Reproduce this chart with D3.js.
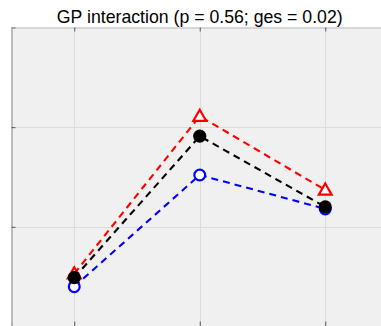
<!DOCTYPE html>
<html>
<head>
<meta charset="utf-8">
<script src="https://cdn.jsdelivr.net/npm/d3@7"></script>
<style>
  html, body { margin: 0; padding: 0; background: #ffffff; }
  svg { display: block; }
</style>
</head>
<body>
<script>
// Group means at each time point for the GP interaction plot
const timePoints = [1, 2, 3];
const groupA = [0.53, 2.11, 1.37];   // red, open triangles
const groupB = [0.40, 1.52, 1.18];   // blue, open circles
const overall = [0.49, 1.91, 1.20];  // black, filled circles
const yTicks = [0, 1, 2, 3];
const titleText = "GP interaction (p = 0.56; ges = 0.02)";

const W = 381, H = 326;
const svg = d3.select("body").append("svg").attr("width", W).attr("height", H);

// Axes box (extends past the right and bottom edges of the window)
const box = { left: 11.5, top: 27.5, right: 388, bottom: 326.5 };

const x = d3.scaleLinear().domain([0.5, 3.5]).range([box.left, box.right]);
const y = d3.scaleLinear().domain([0, 3]).range([box.bottom, box.top]);

// Plot background
svg.append("rect")
  .attr("x", box.left).attr("y", box.top)
  .attr("width", box.right - box.left).attr("height", box.bottom - box.top)
  .attr("fill", "#f0f0f0");

// Grid lines
const grid = svg.append("g").attr("stroke", "#dcdcdc").attr("stroke-width", 1);
grid.selectAll("line.gx").data(timePoints).join("line")
  .attr("x1", d => Math.round(x(d)) + 0.5).attr("x2", d => Math.round(x(d)) + 0.5)
  .attr("y1", box.top).attr("y2", box.bottom);
grid.selectAll("line.gy").data(yTicks.slice(1, -1)).join("line")
  .attr("y1", d => Math.round(y(d)) + 0.5).attr("y2", d => Math.round(y(d)) + 0.5)
  .attr("x1", box.left).attr("x2", box.right);

// Axes with inward ticks, no labels
const axisColor = "#b0b0b0";
const leftAxis = svg.append("g").attr("transform", `translate(${box.left},0)`)
  .call(d3.axisLeft(y).tickValues(yTicks).tickSize(-4).tickFormat(""));
const topAxis = svg.append("g").attr("transform", `translate(0,${box.top})`)
  .call(d3.axisTop(x).tickValues(timePoints).tickSize(-4).tickFormat(""));
const bottomAxis = svg.append("g").attr("transform", `translate(0,${box.bottom})`)
  .call(d3.axisBottom(x).tickValues(timePoints).tickSize(-5).tickFormat(""));
[leftAxis, topAxis, bottomAxis].forEach(g => {
  g.select(".domain").attr("stroke", axisColor).attr("stroke-width", 1.6);
  g.selectAll(".tick line").attr("stroke", "#555").attr("stroke-width", 1);
});
topAxis.select(".domain").attr("stroke", "#bbbbbb").attr("stroke-width", 1.2);

// Dashed series lines
const line = d3.line().x((d, i) => x(timePoints[i])).y(d => y(d));
const series = [
  { values: groupA, color: "#ff0000" },
  { values: groupB, color: "#0000ff" },
  { values: overall, color: "#000000" }
];
svg.append("g").selectAll("path").data(series).join("path")
  .attr("d", s => line(s.values))
  .attr("fill", "none")
  .attr("stroke", s => s.color)
  .attr("stroke-width", 2.1)
  .attr("stroke-dasharray", "7,5");

// Markers
const tri = d3.symbol().type(d3.symbolTriangle).size(72);
svg.append("g").selectAll("path").data(groupA).join("path")
  .attr("d", tri)
  .attr("transform", (d, i) => `translate(${x(timePoints[i])},${y(d) + 1})`)
  .attr("fill", "#ffffff").attr("stroke", "#ff0000").attr("stroke-width", 2.2);

svg.append("g").selectAll("circle").data(groupB).join("circle")
  .attr("cx", (d, i) => x(timePoints[i])).attr("cy", d => y(d))
  .attr("r", 5.4).attr("fill", "#ffffff").attr("stroke", "#0000ff").attr("stroke-width", 2.2);

svg.append("g").selectAll("circle").data(overall).join("circle")
  .attr("cx", (d, i) => x(timePoints[i])).attr("cy", d => y(d))
  .attr("r", 6.6).attr("fill", "#000000");

// Title
svg.append("text")
  .attr("x", (box.left + box.right) / 2).attr("y", 23)
  .attr("text-anchor", "middle")
  .attr("font-family", "Liberation Sans, Arial, sans-serif")
  .attr("font-size", 17.7)
  .attr("fill", "#000")
  .text(titleText);
</script>
</body>
</html>
